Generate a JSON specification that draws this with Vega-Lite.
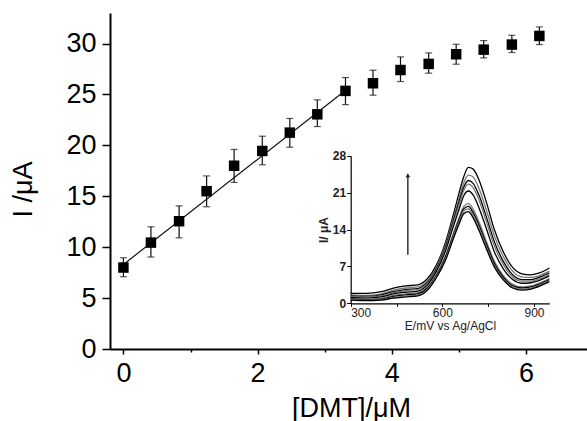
{
  "$schema": "https://vega.github.io/schema/vega-lite/v6.json",
  "width": 477,
  "height": 336,
  "autosize": "none",
  "padding": {"left": 110, "top": 13, "right": 0, "bottom": 72},
  "background": "white",
  "config": {"view": {"stroke": null}, "font": "Liberation Sans"},
  "datasets": {
    "pts": [
      {"c": 0, "I": 8.0, "lo": 7.1, "hi": 8.96},
      {"c": 0.41, "I": 10.45, "lo": 9.03, "hi": 12.0},
      {"c": 0.83, "I": 12.55, "lo": 10.92, "hi": 14.06},
      {"c": 1.24, "I": 15.5, "lo": 13.97, "hi": 17.0},
      {"c": 1.65, "I": 18.0, "lo": 16.36, "hi": 19.6},
      {"c": 2.07, "I": 19.45, "lo": 18.09, "hi": 20.9},
      {"c": 2.48, "I": 21.25, "lo": 19.82, "hi": 22.64},
      {"c": 2.89, "I": 23.05, "lo": 21.85, "hi": 24.47},
      {"c": 3.31, "I": 25.35, "lo": 24.0, "hi": 26.66},
      {"c": 3.72, "I": 26.1, "lo": 24.93, "hi": 27.38},
      {"c": 4.13, "I": 27.4, "lo": 26.27, "hi": 28.69},
      {"c": 4.55, "I": 28.0, "lo": 27.09, "hi": 29.08},
      {"c": 4.96, "I": 28.95, "lo": 27.97, "hi": 29.93},
      {"c": 5.37, "I": 29.4, "lo": 28.59, "hi": 30.29},
      {"c": 5.79, "I": 29.9, "lo": 29.12, "hi": 30.81},
      {"c": 6.2, "I": 30.75, "lo": 29.9, "hi": 31.63}
    ],
    "fit": [
      {"c": 0.0, "I": 8.3},
      {"c": 3.35, "I": 25.6}
    ],
    "cv": [
      {"k": "A", "E": 300, "Ii": 1.9}, {"k": "A", "E": 350, "Ii": 1.9}, {"k": "A", "E": 400, "Ii": 2.2}, {"k": "A", "E": 440, "Ii": 2.9}, {"k": "A", "E": 480, "Ii": 3.3}, {"k": "A", "E": 520, "Ii": 3.5}, {"k": "A", "E": 550, "Ii": 4.6}, {"k": "A", "E": 580, "Ii": 7.2}, {"k": "A", "E": 610, "Ii": 11.5}, {"k": "A", "E": 635, "Ii": 16.6}, {"k": "A", "E": 655, "Ii": 21.0}, {"k": "A", "E": 670, "Ii": 24.0}, {"k": "A", "E": 685, "Ii": 25.8}, {"k": "A", "E": 700, "Ii": 25.5}, {"k": "A", "E": 720, "Ii": 23.4}, {"k": "A", "E": 745, "Ii": 19.0}, {"k": "A", "E": 770, "Ii": 14.0}, {"k": "A", "E": 800, "Ii": 9.7}, {"k": "A", "E": 830, "Ii": 6.8}, {"k": "A", "E": 860, "Ii": 5.6}, {"k": "A", "E": 890, "Ii": 5.4}, {"k": "A", "E": 920, "Ii": 5.8}, {"k": "A", "E": 950, "Ii": 6.7},
      {"k": "B", "E": 300, "Ii": 1.6}, {"k": "B", "E": 350, "Ii": 1.5}, {"k": "B", "E": 400, "Ii": 1.8}, {"k": "B", "E": 440, "Ii": 2.5}, {"k": "B", "E": 480, "Ii": 2.9}, {"k": "B", "E": 520, "Ii": 3.1}, {"k": "B", "E": 550, "Ii": 4.2}, {"k": "B", "E": 580, "Ii": 6.8}, {"k": "B", "E": 610, "Ii": 11.0}, {"k": "B", "E": 635, "Ii": 15.9}, {"k": "B", "E": 655, "Ii": 20.0}, {"k": "B", "E": 670, "Ii": 22.8}, {"k": "B", "E": 685, "Ii": 24.3}, {"k": "B", "E": 700, "Ii": 24.0}, {"k": "B", "E": 720, "Ii": 21.8}, {"k": "B", "E": 745, "Ii": 17.5}, {"k": "B", "E": 770, "Ii": 12.8}, {"k": "B", "E": 800, "Ii": 8.8}, {"k": "B", "E": 830, "Ii": 6.1}, {"k": "B", "E": 860, "Ii": 5.0}, {"k": "B", "E": 890, "Ii": 4.9}, {"k": "B", "E": 920, "Ii": 5.3}, {"k": "B", "E": 950, "Ii": 6.1},
      {"k": "C", "E": 300, "Ii": 1.4}, {"k": "C", "E": 350, "Ii": 1.3}, {"k": "C", "E": 400, "Ii": 1.6}, {"k": "C", "E": 440, "Ii": 2.2}, {"k": "C", "E": 480, "Ii": 2.6}, {"k": "C", "E": 520, "Ii": 2.8}, {"k": "C", "E": 550, "Ii": 3.9}, {"k": "C", "E": 580, "Ii": 6.5}, {"k": "C", "E": 610, "Ii": 10.6}, {"k": "C", "E": 635, "Ii": 15.4}, {"k": "C", "E": 655, "Ii": 19.3}, {"k": "C", "E": 670, "Ii": 22.0}, {"k": "C", "E": 685, "Ii": 23.3}, {"k": "C", "E": 700, "Ii": 22.8}, {"k": "C", "E": 720, "Ii": 20.5}, {"k": "C", "E": 745, "Ii": 16.2}, {"k": "C", "E": 770, "Ii": 11.7}, {"k": "C", "E": 800, "Ii": 7.9}, {"k": "C", "E": 830, "Ii": 5.4}, {"k": "C", "E": 860, "Ii": 4.5}, {"k": "C", "E": 890, "Ii": 4.5}, {"k": "C", "E": 920, "Ii": 5.0}, {"k": "C", "E": 950, "Ii": 5.8},
      {"k": "D", "E": 300, "Ii": 1.3}, {"k": "D", "E": 350, "Ii": 1.2}, {"k": "D", "E": 400, "Ii": 1.4}, {"k": "D", "E": 440, "Ii": 2.0}, {"k": "D", "E": 480, "Ii": 2.4}, {"k": "D", "E": 520, "Ii": 2.6}, {"k": "D", "E": 550, "Ii": 3.7}, {"k": "D", "E": 580, "Ii": 6.3}, {"k": "D", "E": 610, "Ii": 10.3}, {"k": "D", "E": 635, "Ii": 15.0}, {"k": "D", "E": 655, "Ii": 18.8}, {"k": "D", "E": 670, "Ii": 21.4}, {"k": "D", "E": 685, "Ii": 22.6}, {"k": "D", "E": 700, "Ii": 22.0}, {"k": "D", "E": 720, "Ii": 19.6}, {"k": "D", "E": 745, "Ii": 15.3}, {"k": "D", "E": 770, "Ii": 10.9}, {"k": "D", "E": 800, "Ii": 7.3}, {"k": "D", "E": 830, "Ii": 5.0}, {"k": "D", "E": 860, "Ii": 4.2}, {"k": "D", "E": 890, "Ii": 4.2}, {"k": "D", "E": 920, "Ii": 4.7}, {"k": "D", "E": 950, "Ii": 5.5},
      {"k": "E", "E": 300, "Ii": 1.1}, {"k": "E", "E": 350, "Ii": 1.0}, {"k": "E", "E": 400, "Ii": 1.2}, {"k": "E", "E": 440, "Ii": 1.8}, {"k": "E", "E": 480, "Ii": 2.1}, {"k": "E", "E": 520, "Ii": 2.3}, {"k": "E", "E": 550, "Ii": 3.4}, {"k": "E", "E": 580, "Ii": 6.0}, {"k": "E", "E": 610, "Ii": 9.9}, {"k": "E", "E": 635, "Ii": 14.4}, {"k": "E", "E": 655, "Ii": 17.9}, {"k": "E", "E": 670, "Ii": 20.4}, {"k": "E", "E": 685, "Ii": 21.3}, {"k": "E", "E": 700, "Ii": 20.6}, {"k": "E", "E": 720, "Ii": 18.1}, {"k": "E", "E": 745, "Ii": 14.0}, {"k": "E", "E": 770, "Ii": 9.8}, {"k": "E", "E": 800, "Ii": 6.5}, {"k": "E", "E": 830, "Ii": 4.5}, {"k": "E", "E": 860, "Ii": 3.8}, {"k": "E", "E": 890, "Ii": 3.9}, {"k": "E", "E": 920, "Ii": 4.4}, {"k": "E", "E": 950, "Ii": 5.2},
      {"k": "F", "E": 300, "Ii": 0.9}, {"k": "F", "E": 350, "Ii": 0.8}, {"k": "F", "E": 400, "Ii": 1.0}, {"k": "F", "E": 440, "Ii": 1.5}, {"k": "F", "E": 480, "Ii": 1.8}, {"k": "F", "E": 520, "Ii": 2.0}, {"k": "F", "E": 550, "Ii": 3.0}, {"k": "F", "E": 580, "Ii": 5.4}, {"k": "F", "E": 610, "Ii": 9.0}, {"k": "F", "E": 635, "Ii": 13.1}, {"k": "F", "E": 655, "Ii": 16.3}, {"k": "F", "E": 670, "Ii": 18.4}, {"k": "F", "E": 685, "Ii": 18.9}, {"k": "F", "E": 700, "Ii": 17.9}, {"k": "F", "E": 720, "Ii": 15.4}, {"k": "F", "E": 745, "Ii": 11.6}, {"k": "F", "E": 770, "Ii": 8.0}, {"k": "F", "E": 800, "Ii": 5.2}, {"k": "F", "E": 830, "Ii": 3.6}, {"k": "F", "E": 860, "Ii": 3.1}, {"k": "F", "E": 890, "Ii": 3.3}, {"k": "F", "E": 920, "Ii": 3.9}, {"k": "F", "E": 950, "Ii": 4.7},
      {"k": "G", "E": 300, "Ii": 0.8}, {"k": "G", "E": 350, "Ii": 0.7}, {"k": "G", "E": 400, "Ii": 0.8}, {"k": "G", "E": 440, "Ii": 1.3}, {"k": "G", "E": 480, "Ii": 1.6}, {"k": "G", "E": 520, "Ii": 1.8}, {"k": "G", "E": 550, "Ii": 2.8}, {"k": "G", "E": 580, "Ii": 5.2}, {"k": "G", "E": 610, "Ii": 8.7}, {"k": "G", "E": 635, "Ii": 12.7}, {"k": "G", "E": 655, "Ii": 15.9}, {"k": "G", "E": 670, "Ii": 17.9}, {"k": "G", "E": 685, "Ii": 18.4}, {"k": "G", "E": 700, "Ii": 17.3}, {"k": "G", "E": 720, "Ii": 14.8}, {"k": "G", "E": 745, "Ii": 11.1}, {"k": "G", "E": 770, "Ii": 7.6}, {"k": "G", "E": 800, "Ii": 4.9}, {"k": "G", "E": 830, "Ii": 3.3}, {"k": "G", "E": 860, "Ii": 2.9}, {"k": "G", "E": 890, "Ii": 3.1}, {"k": "G", "E": 920, "Ii": 3.7}, {"k": "G", "E": 950, "Ii": 4.5},
      {"k": "H", "E": 300, "Ii": 0.7}, {"k": "H", "E": 350, "Ii": 0.6}, {"k": "H", "E": 400, "Ii": 0.7}, {"k": "H", "E": 440, "Ii": 1.1}, {"k": "H", "E": 480, "Ii": 1.4}, {"k": "H", "E": 520, "Ii": 1.6}, {"k": "H", "E": 550, "Ii": 2.6}, {"k": "H", "E": 580, "Ii": 5.0}, {"k": "H", "E": 610, "Ii": 8.4}, {"k": "H", "E": 635, "Ii": 12.4}, {"k": "H", "E": 655, "Ii": 15.5}, {"k": "H", "E": 670, "Ii": 17.5}, {"k": "H", "E": 685, "Ii": 17.9}, {"k": "H", "E": 700, "Ii": 16.8}, {"k": "H", "E": 720, "Ii": 14.3}, {"k": "H", "E": 745, "Ii": 10.6}, {"k": "H", "E": 770, "Ii": 7.2}, {"k": "H", "E": 800, "Ii": 4.6}, {"k": "H", "E": 830, "Ii": 3.1}, {"k": "H", "E": 860, "Ii": 2.7}, {"k": "H", "E": 890, "Ii": 2.9}, {"k": "H", "E": 920, "Ii": 3.5}, {"k": "H", "E": 950, "Ii": 4.3},
      {"k": "I", "E": 300, "Ii": 0.6}, {"k": "I", "E": 350, "Ii": 0.5}, {"k": "I", "E": 400, "Ii": 0.6}, {"k": "I", "E": 440, "Ii": 1.0}, {"k": "I", "E": 480, "Ii": 1.2}, {"k": "I", "E": 520, "Ii": 1.4}, {"k": "I", "E": 550, "Ii": 2.4}, {"k": "I", "E": 580, "Ii": 4.8}, {"k": "I", "E": 610, "Ii": 8.1}, {"k": "I", "E": 635, "Ii": 12.1}, {"k": "I", "E": 655, "Ii": 15.1}, {"k": "I", "E": 670, "Ii": 17.0}, {"k": "I", "E": 685, "Ii": 17.4}, {"k": "I", "E": 700, "Ii": 16.3}, {"k": "I", "E": 720, "Ii": 13.8}, {"k": "I", "E": 745, "Ii": 10.2}, {"k": "I", "E": 770, "Ii": 6.9}, {"k": "I", "E": 800, "Ii": 4.4}, {"k": "I", "E": 830, "Ii": 2.9}, {"k": "I", "E": 860, "Ii": 2.5}, {"k": "I", "E": 890, "Ii": 2.7}, {"k": "I", "E": 920, "Ii": 3.3}, {"k": "I", "E": 950, "Ii": 4.1}
    ],
    "arrow": [
      {"E": 487, "y0": 9.2, "y1": 24.0}
    ],
    "arrowHead": [
      {"E": 487, "Ii": 24.3}
    ]
  },
  "layer": [
    {
      "layer": [
        {
          "data": {"name": "fit"},
          "mark": {"type": "line", "color": "#111", "strokeWidth": 1.2},
          "encoding": {
            "x": {"field": "c", "type": "quantitative"},
            "y": {"field": "I", "type": "quantitative"}
          }
        },
        {
          "data": {"name": "pts"},
          "mark": {"type": "rule", "color": "#111", "strokeWidth": 1.2},
          "encoding": {
            "x": {"field": "c", "type": "quantitative"},
            "y": {"field": "lo", "type": "quantitative"},
            "y2": {"field": "hi"}
          }
        },
        {
          "data": {"name": "pts"},
          "mark": {"type": "tick", "color": "#111", "orient": "horizontal", "size": 7, "thickness": 1.2},
          "encoding": {
            "x": {"field": "c", "type": "quantitative"},
            "y": {"field": "lo", "type": "quantitative"}
          }
        },
        {
          "data": {"name": "pts"},
          "mark": {"type": "tick", "color": "#111", "orient": "horizontal", "size": 7, "thickness": 1.2},
          "encoding": {
            "x": {"field": "c", "type": "quantitative"},
            "y": {"field": "hi", "type": "quantitative"}
          }
        },
        {
          "data": {"name": "pts"},
          "mark": {"type": "square", "color": "#000", "opacity": 1, "size": 110},
          "encoding": {
            "x": {
              "field": "c", "type": "quantitative",
              "scale": {"domain": [-0.2, 6.91], "nice": false, "zero": false},
              "axis": {
                "orient": "bottom",
                "values": [0, 1, 2, 3, 4, 5, 6],
                "labelExpr": "datum.value % 2 === 0 ? '' + datum.value : ''",
                "title": "[DMT]/μM",
                "titleFont": "Liberation Sans", "titleFontSize": 27, "titleFontWeight": "normal", "titleColor": "#000",
                "titleX": 241, "titleY": 67, "titleBaseline": "alphabetic", "titleAlign": "center",
                "labelFont": "Liberation Sans", "labelFontSize": 27, "labelColor": "#000",
                "labelPadding": 6,
                "grid": false,
                "domainColor": "#000", "domainWidth": 2,
                "tickColor": "#000", "tickWidth": 1.5,
                "tickSize": {"condition": {"test": "datum.value % 2 === 0", "value": 5}, "value": 3}
              }
            },
            "y": {
              "field": "I", "type": "quantitative",
              "scale": {"domain": [0, 33], "nice": false},
              "axis": {
                "orient": "left",
                "values": [0, 2.5, 5, 7.5, 10, 12.5, 15, 17.5, 20, 22.5, 25, 27.5, 30, 32.5],
                "labelExpr": "datum.value % 5 === 0 ? '' + datum.value : ''",
                "title": "I /μA",
                "titleFont": "Liberation Sans", "titleFontSize": 27, "titleFontWeight": "normal", "titleColor": "#000",
                "titleX": -87, "titleY": 176, "titleAngle": -90, "titleAlign": "center", "titleBaseline": "middle",
                "labelFont": "Liberation Sans", "labelFontSize": 27, "labelColor": "#000",
                "labelPadding": 6,
                "grid": false,
                "domainColor": "#000", "domainWidth": 2,
                "tickColor": "#000", "tickWidth": 1.5,
                "tickSize": {"condition": {"test": "datum.value % 5 === 0", "value": 8}, "value": 4}
              }
            }
          }
        }
      ]
    },
    {
      "layer": [
        {
          "data": {"name": "cv"},
          "mark": {"type": "line", "strokeWidth": 1.3, "interpolate": "monotone", "clip": true},
          "encoding": {
            "x": {
              "field": "E", "type": "quantitative",
              "scale": {"domain": [300, 950], "range": [240.7, 439.3], "nice": false, "zero": false},
              "axis": {
                "orient": "bottom", "offset": -45.7,
                "values": [300, 450, 600, 750, 900],
                "labelExpr": "datum.value % 300 === 0 ? '' + datum.value : ''",
                "title": "E/mV vs Ag/AgCl",
                "titleFont": "Liberation Sans", "titleFontSize": 12, "titleFontWeight": "normal", "titleColor": "#222",
                "titlePadding": 2,
                "labelFont": "Liberation Sans", "labelFontSize": 12, "labelColor": "#222",
                "labelPadding": 1,
                "grid": false,
                "domainColor": "#000", "domainWidth": 1.2,
                "tickColor": "#000", "tickWidth": 1, "tickSize": 3
              }
            },
            "y": {
              "field": "Ii", "type": "quantitative",
              "scale": {"domain": [0, 28], "range": [290.3, 142.7], "nice": false},
              "axis": {
                "orient": "left", "offset": -240.7,
                "values": [0, 7, 14, 21, 28],
                "title": "I/ μA",
                "titleFont": "Liberation Sans", "titleFontSize": 12, "titleFontWeight": "bold", "titleColor": "#222",
                "titlePadding": 2,
                "labelFont": "Liberation Sans", "labelFontSize": 12, "labelFontWeight": "bold", "labelColor": "#222",
                "labelPadding": 1,
                "grid": false,
                "domainColor": "#000", "domainWidth": 1.2,
                "tickColor": "#000", "tickWidth": 1, "tickSize": 4
              }
            },
            "color": {
              "field": "k", "type": "nominal", "legend": null,
              "scale": {"domain": ["A", "B", "C", "D", "E", "F", "G", "H", "I"], "range": ["#000", "#777", "#000", "#777", "#000", "#777", "#000", "#777", "#000"]}
            }
          }
        },
        {
          "data": {"name": "arrow"},
          "mark": {"type": "rule", "color": "#333", "strokeWidth": 1.5},
          "encoding": {
            "x": {"field": "E", "type": "quantitative"},
            "y": {"field": "y0", "type": "quantitative"},
            "y2": {"field": "y1"}
          }
        },
        {
          "data": {"name": "arrowHead"},
          "mark": {"type": "point", "shape": "triangle-up", "filled": true, "color": "#222", "size": 22, "opacity": 1},
          "encoding": {
            "x": {"field": "E", "type": "quantitative"},
            "y": {"field": "Ii", "type": "quantitative"}
          }
        }
      ]
    }
  ],
  "resolve": {"scale": {"x": "independent", "y": "independent", "color": "independent"}, "axis": {"x": "independent", "y": "independent"}}
}
